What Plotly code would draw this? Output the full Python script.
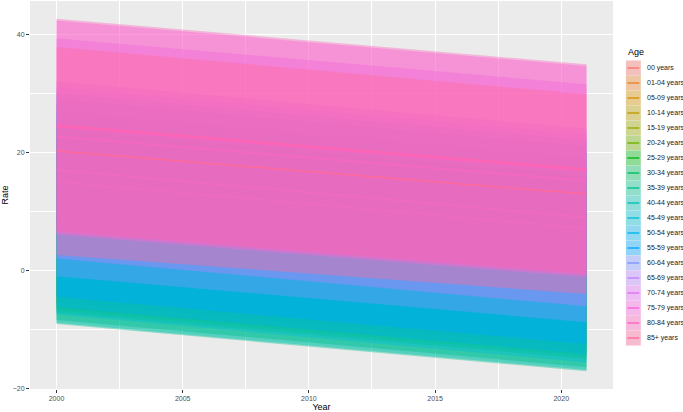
import math
import plotly.graph_objects as go

# ---------------- data ----------------
ages = ["00 years", "01-04 years", "05-09 years", "10-14 years", "15-19 years",
        "20-24 years", "25-29 years", "30-34 years", "35-39 years", "40-44 years",
        "45-49 years", "50-54 years", "55-59 years", "60-64 years", "65-69 years",
        "70-74 years", "75-79 years", "80-84 years", "85+ years"]
years = [2000, 2021]
lower_2000 = [-4.0, -5.0, -5.5, -6.0, -6.5, -6.8, -7.2, -8.4, -9.1, -8.9,
              -7.5, -6.2, -4.5, -1.0, 2.0, 6.0, 6.3, 6.6, 2.6]
upper_2000 = [24.0, 22.0, 21.0, 21.5, 22.0, 23.0, 24.0, 25.0, 26.0, 27.0,
              28.0, 29.0, 30.0, 31.0, 32.0, 39.3, 42.3, 42.6, 37.8]
lower_2021 = [-11.0, -12.0, -13.0, -13.5, -14.0, -14.5, -15.0, -16.4, -17.1, -16.9,
              -15.6, -14.2, -12.5, -8.8, -6.1, -1.2, -0.9, -0.6, -4.0]
upper_2021 = [16.0, 14.0, 13.0, 13.5, 14.0, 15.0, 16.0, 17.0, 18.0, 19.0,
              20.0, 21.0, 22.0, 23.0, 24.0, 31.5, 34.6, 34.9, 29.8]
fit_2000 = [10.0, 8.5, 7.75, 7.75, 7.75, 8.1, 8.4, 8.3, 8.45, 9.05,
            10.25, 11.4, 12.75, 15.0, 17.0, 22.65, 24.3, 24.6, 20.2]
fit_2021 = [2.5, 1.0, 0.0, 0.0, 0.0, 0.25, 0.5, 0.3, 0.45, 1.05,
            2.2, 3.4, 4.75, 7.1, 8.95, 15.15, 16.85, 17.15, 12.9]
x_ticks = [2000, 2005, 2010, 2015, 2020]
y_ticks = [-20, 0, 20, 40]


# ---------------- ggplot hue palette (HCL) ----------------
def hcl_rgb(h, c=100.0, l=65.0):
    WY, Wu, Wv = 100.0, 0.1978398, 0.4683363
    hr = math.radians(h)
    U, V = c * math.cos(hr), c * math.sin(hr)
    Y = WY * ((l + 16) / 116) ** 3 if l > 7.999592 else WY * l / 903.3
    u = U / (13 * l) + Wu
    v = V / (13 * l) + Wv
    X = 9.0 * Y * u / (4 * v)
    Z = -X / 3 - 5 * Y + 3 * Y / v

    def g(t):
        if t > 0.00304:
            return 1.055 * t ** (1 / 2.4) - 0.055
        return 12.92 * t

    r = g((3.240479 * X - 1.537150 * Y - 0.498535 * Z) / WY)
    gg = g((-0.969256 * X + 1.875992 * Y + 0.041556 * Z) / WY)
    b = g((0.055648 * X - 0.204043 * Y + 1.057311 * Z) / WY)
    return tuple(int(round(255 * min(1, max(0, q)))) for q in (r, gg, b))


n = len(ages)
cols = [hcl_rgb(15 + i * 360.0 / n) for i in range(n)]
ALPHA = 0.4

fig = go.Figure()
for i in range(n):
    r, g, b = cols[i]
    fig.add_trace(go.Scatter(
        x=years + years[::-1],
        y=[lower_2000[i], lower_2021[i], upper_2021[i], upper_2000[i]],
        fill="toself", fillcolor=f"rgba({r},{g},{b},{ALPHA})",
        line=dict(width=0), mode="lines", hoverinfo="skip", showlegend=False))
    fig.add_trace(go.Scatter(
        x=years, y=[fit_2000[i], fit_2021[i]], mode="lines",
        line=dict(color=f"rgb({r},{g},{b})", width=1.5),
        name=ages[i], showlegend=False))

# ---------------- manual ggplot-style legend ----------------
W, H = 683, 412
L_M, R_M, T_M, B_M = 26, 70, 1, 23
pw, ph = W - L_M - R_M, H - T_M - B_M


def px(xp):
    return (xp - L_M) / pw


def py(yp):
    return 1 - (yp - T_M) / ph


key_x0, key_x1 = 626, 641
key_top, key_h = 60.5, 15.0
shapes = []
annotations = []
for i in range(n):
    r, g, b = cols[i]
    y0 = key_top + i * key_h
    y1 = y0 + key_h
    shapes.append(dict(type="rect", xref="paper", yref="paper",
                       x0=px(key_x0), x1=px(key_x1), y0=py(y1), y1=py(y0),
                       fillcolor="#F2F2F2", line=dict(width=0), layer="above"))
    shapes.append(dict(type="rect", xref="paper", yref="paper",
                       x0=px(key_x0), x1=px(key_x1), y0=py(y1), y1=py(y0),
                       fillcolor=f"rgba({r},{g},{b},{ALPHA})", line=dict(width=0), layer="above"))
    ym = (y0 + y1) / 2
    shapes.append(dict(type="line", xref="paper", yref="paper",
                       x0=px(key_x0 + 1.5), x1=px(key_x1 - 1.5), y0=py(ym), y1=py(ym),
                       line=dict(color=f"rgb({r},{g},{b})", width=1.4), layer="above"))
    annotations.append(dict(text=ages[i], xref="paper", yref="paper",
                            x=px(key_x1 + 4), y=py(ym), xanchor="left", yanchor="middle",
                            showarrow=False, font=dict(size=7, color="#1A1A1A")))
annotations.append(dict(text="Age", xref="paper", yref="paper",
                        x=px(key_x0), y=py(52.5), xanchor="left", yanchor="middle",
                        showarrow=False, font=dict(size=9, color="#000000")))

axis_common = dict(
    showgrid=True, gridcolor="#FFFFFF", gridwidth=1.1, zeroline=False,
    ticks="outside", ticklen=3, tickwidth=1, tickcolor="#333333",
    tickfont=dict(size=7, color="#4D4D4D"), showline=False,
)

fig.update_layout(
    width=W, height=H,
    margin=dict(l=L_M, r=R_M, t=T_M, b=B_M),
    paper_bgcolor="#FFFFFF", plot_bgcolor="#EBEBEB",
    font=dict(family="Liberation Sans, Arial, sans-serif"),
    showlegend=False,
    shapes=shapes, annotations=annotations,
    xaxis=dict(range=[1998.95, 2022.05], tickvals=x_ticks,
               minor=dict(dtick=2.5, tick0=1997.5, showgrid=True, gridcolor="#FFFFFF", gridwidth=0.5, ticks=""),
               title=dict(text="Year", font=dict(size=9, color="#000000"), standoff=2),
               **axis_common),
    yaxis=dict(range=[-20.1, 45.6], tickvals=y_ticks,
               minor=dict(dtick=10, tick0=-30, showgrid=True, gridcolor="#FFFFFF", gridwidth=0.5, ticks=""),
               title=dict(text="Rate", font=dict(size=9, color="#000000"), standoff=5),
               **axis_common),
)

fig.write_html("out.html", config={"displayModeBar": False},
               post_script="document.body.style.margin='0px';")
